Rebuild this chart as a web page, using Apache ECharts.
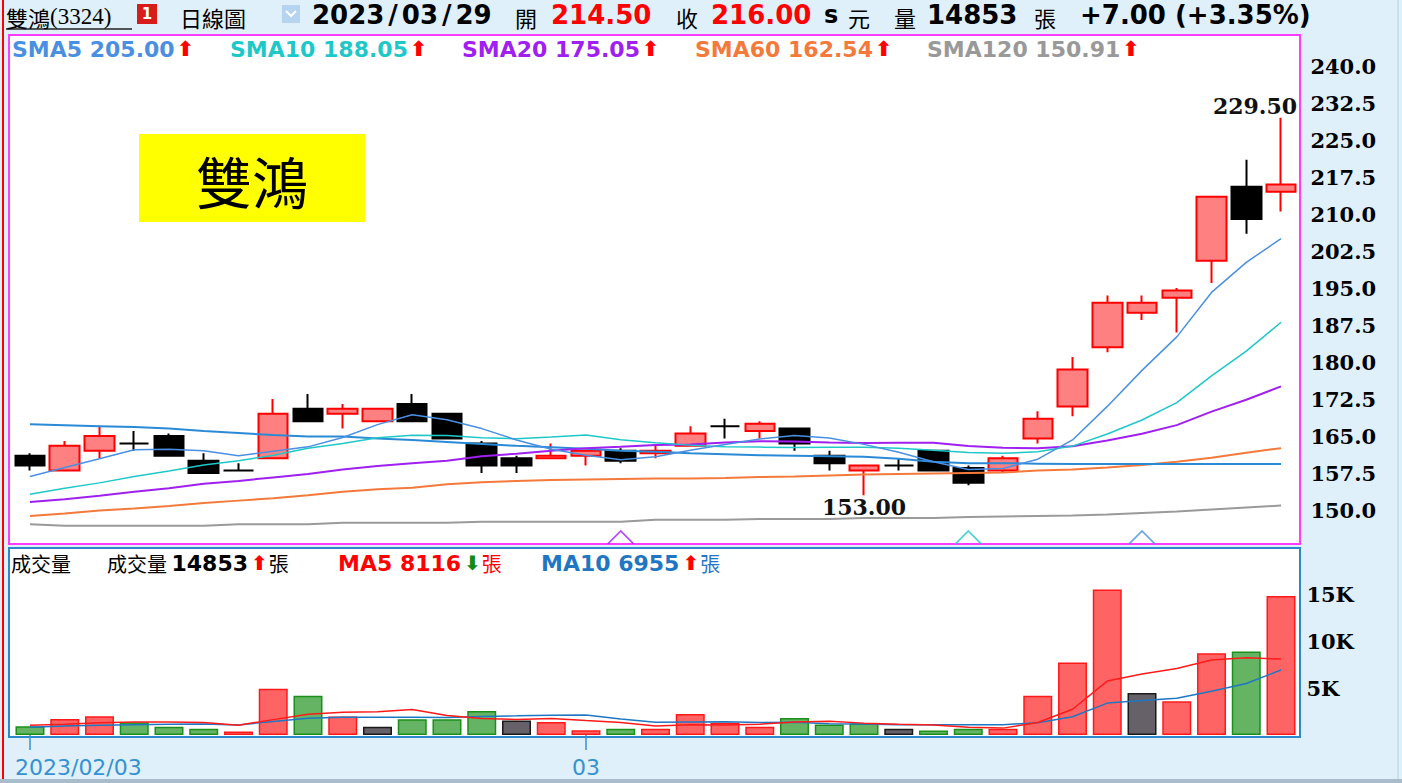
<!DOCTYPE html>
<html>
<head>
<meta charset="utf-8">
<title>雙鴻(3324) 日線圖</title>
<script src="https://cdn.jsdelivr.net/npm/echarts@6/dist/echarts.min.js"></script>
<style>
  html, body { margin: 0; padding: 0; background: #dff0fb; }
  #chart { width: 1402px; height: 783px; }
</style>
</head>
<body>
<div id="chart"></div>
<script>
// trading days shown on the chart
const dates = [
  "2023/02/03", "2023/02/06", "2023/02/07", "2023/02/08", "2023/02/09", "2023/02/10",
  "2023/02/13", "2023/02/14", "2023/02/15", "2023/02/16", "2023/02/17", "2023/02/20",
  "2023/02/21", "2023/02/22", "2023/02/23", "2023/02/24", "2023/03/01", "2023/03/02",
  "2023/03/03", "2023/03/06", "2023/03/07", "2023/03/08", "2023/03/09", "2023/03/10",
  "2023/03/13", "2023/03/14", "2023/03/15", "2023/03/16", "2023/03/17", "2023/03/20",
  "2023/03/21", "2023/03/22", "2023/03/23", "2023/03/24", "2023/03/27", "2023/03/28",
  "2023/03/29"
];

const opens  = [161.0, 158.0, 162.0, 163.5, 165.0, 160.0, 158.0, 160.5, 170.5, 169.5, 168.0, 171.5, 169.5, 163.5, 160.5, 160.5, 161.0, 162.0, 161.5, 163.0, 167.0, 166.0, 166.5, 161.0, 158.0, 159.0, 162.0, 158.5, 158.0, 164.5, 171.0, 183.0, 190.0, 193.0, 200.5, 215.5, 214.5];
const closes = [159.0, 163.0, 165.0, 163.5, 161.0, 157.5, 158.0, 169.5, 168.0, 170.5, 170.5, 168.0, 164.5, 159.0, 159.0, 161.0, 162.0, 160.0, 162.0, 165.5, 167.0, 167.5, 163.5, 159.5, 159.0, 159.0, 158.0, 155.5, 160.5, 168.5, 178.5, 192.0, 192.0, 194.5, 213.5, 209.0, 216.0];
const lows   = [158.0, 158.0, 160.5, 162.0, 161.0, 157.5, 158.0, 160.5, 168.0, 166.5, 168.0, 168.0, 164.5, 157.5, 157.5, 160.5, 159.0, 159.5, 160.5, 163.0, 164.5, 164.5, 162.0, 158.0, 153.0, 158.0, 158.0, 155.0, 157.5, 163.5, 169.0, 182.0, 188.5, 186.0, 196.0, 206.0, 210.5];
const highs  = [161.5, 164.0, 167.0, 166.0, 165.5, 161.5, 159.5, 172.5, 173.5, 171.5, 170.5, 173.5, 169.5, 164.0, 161.0, 163.5, 162.0, 162.5, 163.0, 167.0, 168.5, 168.0, 166.5, 162.0, 159.0, 160.5, 162.0, 159.0, 161.0, 170.0, 181.0, 193.5, 193.5, 195.0, 213.5, 221.0, 229.5];
const prevClose = 160.5; // close of the day before 2023/02/03

const sma5   = [156.8, 158.6, 160.4, 162.2, 162.3, 162.0, 161.0, 161.9, 162.8, 164.7, 167.3, 169.3, 168.3, 166.5, 164.2, 162.3, 161.1, 160.2, 160.8, 162.1, 163.3, 164.4, 165.1, 164.6, 163.3, 161.7, 159.8, 158.2, 158.4, 160.3, 164.2, 171.0, 178.3, 185.1, 194.1, 200.2, 205.00];
const sma10  = [153.2, 154.4, 155.5, 156.8, 157.9, 159.1, 160.0, 161.1, 162.5, 163.5, 164.65, 165.15, 165.1, 164.65, 164.45, 164.8, 165.2, 164.25, 163.65, 163.15, 162.8, 162.75, 162.65, 162.7, 162.7, 162.5, 162.1, 161.65, 161.5, 161.8, 162.95, 165.4, 168.25, 171.75, 177.2, 182.2, 188.05];
const sma20  = [151.6, 152.2, 152.9, 153.7, 154.4, 155.3, 155.9, 156.6, 157.3, 158.2, 158.9, 159.5, 160.0, 160.9, 161.4, 162.0, 162.5, 162.8, 163.2, 163.3, 163.7, 163.95, 163.9, 163.7, 163.6, 163.65, 163.65, 162.95, 162.6, 162.5, 162.9, 164.1, 165.45, 167.2, 169.95, 172.35, 175.05];
const sma60  = [148.8, 149.3, 149.9, 150.3, 150.8, 151.4, 151.9, 152.4, 153.0, 153.7, 154.2, 154.5, 155.2, 155.6, 155.9, 156.1, 156.2, 156.3, 156.4, 156.4, 156.5, 156.7, 156.8, 157.0, 157.2, 157.3, 157.4, 157.5, 157.6, 158.0, 158.2, 158.6, 159.1, 159.8, 160.6, 161.6, 162.54];
const sma120 = [147.1, 146.8, 146.8, 146.8, 146.8, 146.8, 147.1, 147.1, 147.1, 147.4, 147.4, 147.4, 147.4, 147.6, 147.6, 147.6, 147.6, 147.6, 148.0, 148.0, 148.0, 148.2, 148.2, 148.2, 148.4, 148.4, 148.4, 148.6, 148.7, 148.8, 148.9, 149.1, 149.4, 149.7, 150.1, 150.5, 150.91];
// unlabelled steel-blue line
const baseLine = [167.4, 167.2, 167.0, 166.8, 166.5, 166.0, 165.6, 165.2, 164.9, 164.9, 164.5, 164.2, 163.8, 163.4, 163.0, 162.7, 162.4, 162.0, 161.8, 161.5, 161.3, 161.1, 161.0, 160.9, 160.8, 160.4, 159.8, 159.5, 159.5, 159.4, 159.3, 159.3, 159.3, 159.3, 159.3, 159.3, 159.3];

// signal marks at the bottom of the price panel
const signalIdx = [17, 27, 32];

const volumes = [940, 1720, 2000, 1360, 880, 660, 370, 4950, 4200, 1970, 880, 1680, 1680, 2570, 1540, 1400, 510, 660, 660, 2250, 1300, 880, 1830, 1120, 1220, 660, 480, 660, 660, 4200, 7750, 15550, 4490, 3600, 8740, 8920, 14853];
const volMa5  = [1050, 1150, 1300, 1380, 1380, 1324, 1054, 1644, 2212, 2430, 2474, 2736, 2082, 1756, 1670, 1774, 1540, 1336, 954, 1096, 1076, 1150, 1384, 1476, 1270, 1142, 1062, 828, 736, 1332, 2750, 5764, 6530, 7118, 8026, 8260, 8116];
const volMa10 = [830, 950, 1050, 1100, 1150, 1180, 1080, 1450, 1800, 1905, 1899, 1895, 1863, 1984, 2050, 2124, 2138, 1709, 1355, 1383, 1425, 1345, 1360, 1215, 1183, 1109, 1106, 1106, 1106, 1301, 1946, 3413, 3679, 3927, 4679, 5505, 6955];

const priceTicks = [150.0, 157.5, 165.0, 172.5, 180.0, 187.5, 195.0, 202.5, 210.0, 217.5, 225.0, 232.5, 240.0];
const volTicks = [5000, 10000, 15000];

const chart = echarts.init(document.getElementById("chart"), null, { renderer: "svg" });

const last = dates.length - 1;
const SANS = "DejaVu Sans";
const SERIF = "DejaVu Serif";
const CJK = "Noto Sans CJK TC";
const UP = "⬆", DOWN = "⬇";

const candleData = opens.map((o, i) => [o, closes[i], lows[i], highs[i]]);

// volume colour follows close vs previous close
const volData = volumes.map((v, i) => {
  const pc = i === 0 ? prevClose : closes[i - 1];
  let style;
  if (closes[i] > pc) style = { color: "#ff6464", borderColor: "#ff1a1a" };
  else if (closes[i] < pc) style = { color: "#64b464", borderColor: "#1a901a" };
  else style = { color: "#666068", borderColor: "#1a1a1a" };
  return { value: v, itemStyle: Object.assign({ borderWidth: 1.5 }, style) };
});

const signalColors = ["#a020f0", "#1fc8c8", "#4a90e2"];

function txt(x, y, text, size, color, family, weight, rich) {
  return {
    type: "text", x: x, y: y, z: 10,
    style: {
      text: text, fill: color, fontSize: size, fontFamily: family,
      fontWeight: weight || "normal", align: "left", verticalAlign: "middle",
      lineHeight: size + 2, rich: rich
    }
  };
}

const change = closes[last] - closes[last - 1];
const pct = change / closes[last - 1] * 100;
const sign = change >= 0 ? "+" : "";

function smaLabel(name, arr) {
  return "{n|" + name + " " + arr[last].toFixed(2) + "}{u|" + (arr[last] >= arr[last - 1] ? UP : DOWN) + "}";
}
function smaRich(color) {
  return {
    n: { fill: color, fontSize: 22, fontFamily: SANS, fontWeight: "bold" },
    u: { fill: "#ff0000", fontSize: 21, fontFamily: SANS, fontWeight: "bold", padding: [0, 0, 0, 2] }
  };
}
function volRich(color, arrowColor) {
  return {
    c: { fill: color, fontSize: 20, fontFamily: CJK },
    v: { fill: color, fontSize: 22, fontFamily: SANS, fontWeight: "bold" },
    u: { fill: arrowColor, fontSize: 20, fontFamily: SANS, fontWeight: "bold", padding: [0, 1, 0, 3] }
  };
}

// header date with wide slashes
const headDate = dates[last].split("/").map((p) => "{d|" + p + "}").join("{s|/}");

const graphics = [
  // panels
  { type: "rect", z: -1, shape: { x: 9, y: 35, width: 1291, height: 509 },
    style: { fill: "#ffffff", stroke: "#ff3cff", lineWidth: 2 } },
  { type: "rect", z: -1, shape: { x: 9, y: 548, width: 1291, height: 189 },
    style: { fill: "#ffffff", stroke: "#2c88c9", lineWidth: 2 } },
  { type: "line", z: 1, shape: { x1: 3, y1: 0, x2: 3, y2: 783 }, style: { stroke: "#ff0000", lineWidth: 2 } },
  { type: "line", z: 1, shape: { x1: 6, y1: 29, x2: 132, y2: 29 }, style: { stroke: "#222222", lineWidth: 1.5 } },
  { type: "line", z: 1, shape: { x1: 1398, y1: 0, x2: 1398, y2: 783 }, style: { stroke: "#b4cfe2", lineWidth: 1 } },
  { type: "rect", z: 1, shape: { x: 0, y: 779, width: 1402, height: 4 }, style: { fill: "#a9bccb" } },

  // header
  txt(6, 16.5, "{a|雙鴻}{b|(3324)}", 22, "#000", CJK, "normal", {
    a: { fontSize: 22, fontFamily: CJK, fill: "#000", lineHeight: 24 },
    b: { fontSize: 23, fontFamily: "Liberation Serif", fill: "#000", lineHeight: 24 }
  }),
  { type: "rect", z: 9, shape: { x: 137, y: 4, width: 20, height: 20 }, style: { fill: "#d81c1c" } },
  { type: "text", z: 10, x: 147, y: 14,
    style: { text: "1", fill: "#fff", fontSize: 15, fontFamily: SANS, fontWeight: "bold", align: "center", verticalAlign: "middle" } },
  txt(180, 16.5, "日線圖", 22, "#000", CJK),
  { type: "rect", z: 9, shape: { x: 282, y: 5, width: 18, height: 18 }, style: { fill: "#b5d4ef" } },
  { type: "polyline", z: 10, shape: { points: [[286, 11], [291, 16], [296, 11]] },
    style: { stroke: "#ffffff", lineWidth: 2, fill: "none" } },
  txt(312, 15, headDate, 26, "#000", SANS, "bold", {
    d: { fill: "#000", fontSize: 26, fontFamily: SANS, fontWeight: "bold" },
    s: { fill: "#000", fontSize: 26, fontFamily: SANS, fontWeight: "bold", padding: [0, 4, 0, 4] }
  }),
  txt(515, 16.5, "開", 22, "#000", CJK),
  txt(551, 15, opens[last].toFixed(2), 26, "#ff0000", SANS, "bold"),
  txt(676, 16.5, "收", 22, "#000", CJK),
  txt(711, 15, closes[last].toFixed(2), 26, "#ff0000", SANS, "bold"),
  txt(824, 15, "s", 24, "#000", SANS, "bold"),
  txt(848, 16.5, "元", 22, "#000", CJK),
  txt(894, 16.5, "量", 22, "#000", CJK),
  txt(927, 15, String(volumes[last]), 26, "#000", SANS, "bold"),
  txt(1034, 16.5, "張", 22, "#000", CJK),
  txt(1080, 15, sign + change.toFixed(2) + " (" + sign + pct.toFixed(2) + "%)", 26, "#000", SANS, "bold"),

  // price panel legend
  txt(12, 49, smaLabel("SMA5", sma5), 22, "#4a90e2", SANS, "bold", smaRich("#4a90e2")),
  txt(230, 49, smaLabel("SMA10", sma10), 22, "#1fc8c8", SANS, "bold", smaRich("#1fc8c8")),
  txt(462, 49, smaLabel("SMA20", sma20), 22, "#a020f0", SANS, "bold", smaRich("#a020f0")),
  txt(695, 49, smaLabel("SMA60", sma60), 22, "#f47a3c", SANS, "bold", smaRich("#f47a3c")),
  txt(927, 49, smaLabel("SMA120", sma120), 22, "#999999", SANS, "bold", smaRich("#999999")),

  // name tag
  { type: "rect", z: 9, shape: { x: 139, y: 134, width: 226, height: 88 }, style: { fill: "#ffff00" } },
  { type: "text", z: 10, x: 252, y: 179,
    style: { text: "雙鴻", fill: "#000", fontSize: 56, fontFamily: CJK, align: "center", verticalAlign: "middle" } },

  // volume panel legend
  txt(11, 563, "{c|成交量}", 20, "#000", CJK, "normal", volRich("#000", "#ff0000")),
  txt(107, 563, "{c|成交量} {v|" + volumes[last] + "}{u|" + UP + "}{c|張}", 20, "#000", CJK, "normal",
    volRich("#000", "#ff0000")),
  txt(338, 563, "{v|MA5 " + volMa5[last] + "}{u|" + DOWN + "}{c|張}", 20, "#ff0000", CJK, "normal",
    volRich("#ff0000", "#138a13")),
  txt(541, 563, "{v|MA10 " + volMa10[last] + "}{u|" + UP + "}{c|張}", 20, "#1f77c4", CJK, "normal",
    volRich("#1f77c4", "#ff0000"))
];

function showDateLabel(i) {
  return i === 0 || dates[i].slice(5, 7) !== dates[i - 1].slice(5, 7);
}

function maLine(name, data, color, width, xi, yi) {
  return {
    name: name, type: "line", data: data, xAxisIndex: xi, yAxisIndex: yi,
    showSymbol: false, symbol: "none", silent: true,
    lineStyle: { color: color, width: width }, z: 3
  };
}

const option = {
  backgroundColor: "#dff0fb",
  animation: false,
  graphic: { elements: graphics },
  grid: [
    { left: 12.6, top: 29, width: 1285.8, height: 518 },
    { left: 12.6, top: 548, width: 1285.8, height: 187 }
  ],
  xAxis: [
    {
      type: "category", gridIndex: 0, data: dates, boundaryGap: true,
      axisLine: { show: false }, axisTick: { show: false }, axisLabel: { show: false },
      splitLine: { show: false }
    },
    {
      type: "category", gridIndex: 1, data: dates, boundaryGap: true,
      axisLine: { show: false },
      axisTick: {
        show: true, alignWithLabel: true, length: 15,
        interval: (i) => showDateLabel(i),
        lineStyle: { color: "#3592d2", width: 1.5 }
      },
      axisLabel: {
        interval: (i) => showDateLabel(i),
        formatter: (v) => (v === dates[0] ? "{first|" + v + "}" : v.slice(5, 7)),
        color: "#3592d2", fontSize: 22, fontFamily: SANS, margin: 21,
        rich: {
          first: { color: "#3592d2", fontSize: 22, fontFamily: SANS, width: 30, align: "left" }
        }
      },
      splitLine: { show: false }
    }
  ],
  yAxis: [
    {
      type: "value", gridIndex: 0, position: "right",
      min: 142.5, max: 247.5, interval: 7.5,
      axisLine: { show: false }, axisTick: { show: false }, splitLine: { show: false },
      axisLabel: {
        margin: 12, color: "#000", fontSize: 21, fontFamily: SERIF, fontWeight: "bold",
        showMinLabel: false, showMaxLabel: false,
        formatter: (v) => (priceTicks.some((t) => Math.abs(t - v) < 1e-6) ? v.toFixed(1) : "")
      }
    },
    {
      type: "value", gridIndex: 1, position: "right",
      min: 0, max: 20000, interval: 5000,
      axisLine: { show: false }, axisTick: { show: false }, splitLine: { show: false },
      axisLabel: {
        margin: 8, color: "#000", fontSize: 21, fontFamily: SERIF, fontWeight: "bold",
        showMinLabel: false, showMaxLabel: false,
        formatter: (v) => (volTicks.indexOf(v) >= 0 ? v / 1000 + "K" : "")
      }
    }
  ],
  series: [
    {
      name: "K", type: "candlestick", xAxisIndex: 0, yAxisIndex: 0,
      data: candleData, barWidth: 30, z: 2,
      itemStyle: {
        color: "#ff8080", color0: "#000000",
        borderColor: "#ff0000", borderColor0: "#000000",
        borderColorDoji: "#000000", borderWidth: 2
      },
      markPoint: {
        symbol: "circle", symbolSize: 0, silent: true,
        label: {
          show: true, color: "#111", fontSize: 22, fontFamily: SERIF, fontWeight: "bold",
          formatter: (p) => Number(p.value).toFixed(2)
        },
        data: [
          { type: "max", valueDim: "highest", label: { position: "inside", offset: [-26, -12] } },
          { type: "min", valueDim: "lowest", label: { position: "inside", offset: [0, 12] } }
        ]
      }
    },
    maLine("SMA120", sma120, "#9a9a9a", 2, 0, 0),
    maLine("SMA60", sma60, "#f47a3c", 2, 0, 0),
    maLine("line", baseLine, "#2b8ad6", 2, 0, 0),
    maLine("SMA20", sma20, "#a020f0", 2, 0, 0),
    maLine("SMA10", sma10, "#1fc8c8", 1.5, 0, 0),
    maLine("SMA5", sma5, "#4a90e2", 1.5, 0, 0),
    {
      name: "signal", type: "scatter", xAxisIndex: 0, yAxisIndex: 0, z: 4, silent: true,
      symbol: "path://M0,10L5,0L10,10", symbolSize: [26, 13],
      data: signalIdx.map((idx, k) => ({
        value: [idx, 144.43],
        itemStyle: { color: "transparent", borderColor: signalColors[k], borderWidth: 1.5 }
      }))
    },
    {
      name: "成交量", type: "bar", xAxisIndex: 1, yAxisIndex: 1,
      data: volData, barWidth: 29, z: 2
    },
    maLine("MA10", volMa10, "#1f77c4", 1.5, 1, 1),
    maLine("MA5", volMa5, "#ff1a1a", 1.5, 1, 1)
  ]
};

chart.setOption(option);
</script>
</body>
</html>
